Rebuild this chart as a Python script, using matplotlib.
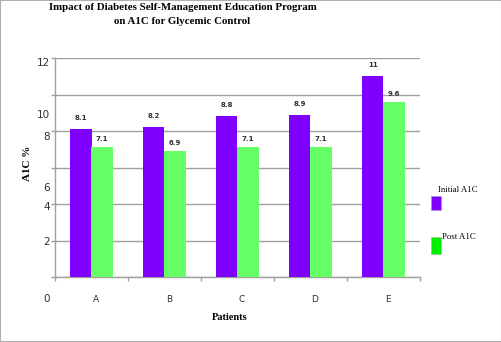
import numpy as np
import matplotlib
matplotlib.use('Agg')
import matplotlib.pyplot as plt
from matplotlib.patches import Rectangle
from matplotlib.transforms import blended_transform_factory

# data
patients = ['A', 'B', 'C', 'D', 'E']
initial_a1c = [8.1, 8.2, 8.8, 8.9, 11]
post_a1c = [7.1, 6.9, 7.1, 7.1, 9.6]
initial_labels = ['8.1', '8.2', '8.8', '8.9', '11']
post_labels = ['7.1', '6.9', '7.1', '7.1', '9.6']

# y tick labels as they appear (offset from the gridlines in the original)
ytick_text = ['12', '10', '8', '6', '4', '2', '0']
ytick_pos = [11.7, 8.87, 7.66, 4.9, 3.86, 1.93, -1.2]

purple = '#8000ff'
green = '#66ff66'
grid_c = '#a0a0a0'
txt_c = '#303030'
serif = ['Liberation Serif', 'DejaVu Serif']

W, H = 502, 342
fig = plt.figure(figsize=(W / 100, H / 100), dpi=100)
fig.patches.append(Rectangle((0, 0), 1, 1, transform=fig.transFigure,
                             fill=False, edgecolor='#b0b0b0', linewidth=1.5))

def fx(px):
    return px / W

def fy(py):
    return 1 - py / H

ax = fig.add_axes([fx(55), fy(277), fx(420) - fx(55), fy(58) - fy(277)])

x = np.arange(len(patients))
bw = 0.288
ax.bar(x - bw / 2, initial_a1c, bw, color=purple, zorder=3)
ax.bar(x + bw / 2, post_a1c, bw, color=green, zorder=3)

for i in range(len(patients)):
    ax.text(x[i] - bw / 2, initial_a1c[i] + 0.6, initial_labels[i], ha='center',
            va='center', fontsize=5, fontweight='bold', color=txt_c, zorder=4)
    ax.text(x[i] + bw / 2, post_a1c[i] + 0.45, post_labels[i], ha='center',
            va='center', fontsize=5, fontweight='bold', color=txt_c, zorder=4)

ax.set_xlim(-0.5, len(patients) - 0.5)
ax.set_ylim(0, 12)

# gridlines every 2 with short outward ticks
ax.set_yticks(np.arange(0, 13, 2))
ax.set_yticklabels([])
ax.yaxis.grid(True, color=grid_c, linewidth=1, zorder=0)
ax.tick_params(axis='y', length=3, color=grid_c, width=1)

# tick marks between the categories
ax.set_xticks(np.arange(-0.5, len(patients), 1))
ax.set_xticklabels([])
ax.tick_params(axis='x', length=3, color=grid_c, width=1)

for s in ['top', 'right']:
    ax.spines[s].set_visible(False)
for s in ['left', 'bottom']:
    ax.spines[s].set_color(grid_c)
    ax.spines[s].set_linewidth(1)

# tick labels
ytr = blended_transform_factory(fig.transFigure, ax.transData)
for t, p in zip(ytick_text, ytick_pos):
    ax.text(fx(50), p, t, transform=ytr, ha='right', va='center',
            fontsize=7.5, color=txt_c, clip_on=False)

xtr = blended_transform_factory(ax.transData, fig.transFigure)
for i, p in enumerate(patients):
    ax.text(i + 0.06, fy(299), p, transform=xtr, ha='center', va='center',
            fontsize=6.5, color=txt_c)

# titles
fig.text(fx(182.5), fy(7), 'Impact of Diabetes Self-Management Education Program',
         ha='center', va='center', fontsize=7.8, fontweight='bold', family=serif)
fig.text(fx(182.5), fy(21), 'on A1C for Glycemic Control',
         ha='center', va='center', fontsize=7.8, fontweight='bold', family=serif)
fig.text(fx(28), fy(163), 'A1C %', rotation=90, ha='center', va='center',
         fontsize=8, fontweight='bold', family=serif)
fig.text(fx(230), fy(317), 'Patients', ha='center', va='center',
         fontsize=7.5, fontweight='bold', family=serif)

# legend
fig.patches.append(Rectangle((fx(431), fy(210)), fx(10), fy(196) - fy(210),
                             transform=fig.transFigure, facecolor=purple,
                             edgecolor='#a0a0c0', linewidth=0.5))
fig.patches.append(Rectangle((fx(431), fy(254)), fx(10), fy(237) - fy(254),
                             transform=fig.transFigure, facecolor='#00ee00',
                             edgecolor='#a0c0a0', linewidth=0.5))
fig.text(fx(438), fy(190), 'Initial A1C', ha='left', va='center',
         fontsize=6.3, family=serif)
fig.text(fx(442), fy(237), 'Post A1C', ha='left', va='center',
         fontsize=6.3, family=serif)

fig.savefig('out.png', dpi=100)
